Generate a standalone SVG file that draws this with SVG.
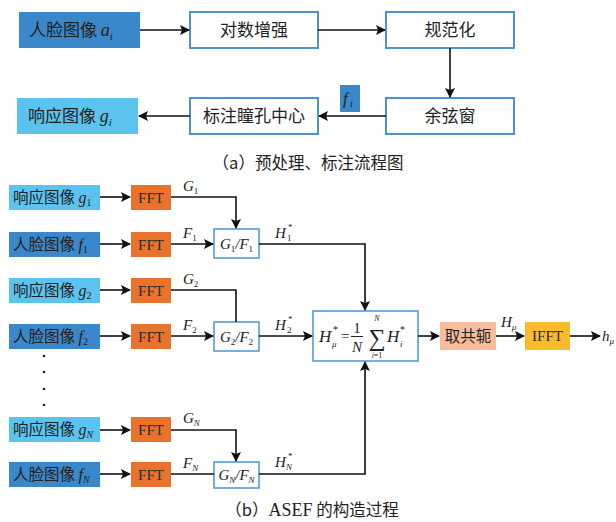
<svg xmlns="http://www.w3.org/2000/svg" width="616" height="522" viewBox="0 0 616 522">
<defs>
<marker id="ah" markerWidth="10" markerHeight="10" refX="9" refY="5" orient="auto" markerUnits="userSpaceOnUse">
<path d="M0,0 L10,5 L0,10 L2,5 Z" fill="#111"/>
</marker>
<style>
.cn{font-family:"Noto Sans CJK SC",sans-serif;fill:#222;}
.m{font-family:"Liberation Serif",serif;font-style:italic;fill:#222;}
.r{font-family:"Liberation Serif",serif;font-style:normal;fill:#222;}
.wb{fill:#fff;stroke:#4a94d4;stroke-width:2;}
.sb{fill:#fff;stroke:#4a94d4;stroke-width:1.5;}
.dk{fill:#3a88c9;}
.lt{fill:#5cc2ee;}
.ff{fill:#e9722d;}
.fx{font-family:"Liberation Serif",serif;font-size:15px;fill:#2a2a2a;text-anchor:middle;}
.ln{fill:none;stroke:#111;stroke-width:1.6;}
.t17{font-size:17px;}
.t15{font-size:15.5px;}
</style>
</defs>
<rect width="616" height="522" fill="#fff"/>

<!-- part (a) -->
<g id="a-face"><rect class="dk" x="19" y="12" width="121" height="36"/><text class="cn t17" x="29" y="36">人脸图像 <tspan class="m" font-size="18">a</tspan><tspan class="m" font-size="11" dy="4">i</tspan></text></g>
<g id="a-log"><rect class="wb" x="190" y="12" width="128" height="36"/><text class="cn t17" x="254" y="36" text-anchor="middle">对数增强</text></g>
<g id="a-norm"><rect class="wb" x="386" y="12" width="128" height="36"/><text class="cn t17" x="450" y="36" text-anchor="middle">规范化</text></g>
<g id="a-cos"><rect class="wb" x="386" y="98" width="128" height="36"/><text class="cn t17" x="450" y="122" text-anchor="middle">余弦窗</text></g>
<g id="a-mark"><rect class="wb" x="190" y="98" width="128" height="36"/><text class="cn t17" x="254" y="122" text-anchor="middle">标注瞳孔中心</text></g>
<g id="a-fi"><rect class="dk" x="340" y="85" width="20" height="27"/><text class="m" x="343" y="104" font-size="17">f</text><text class="m" x="350" y="107" font-size="10">i</text></g>
<g id="a-resp"><rect class="lt" x="17" y="98" width="121" height="36"/><text class="cn t17" x="28" y="122">响应图像 <tspan class="m" font-size="18">g</tspan><tspan class="m" font-size="11" dy="4">i</tspan></text></g>
<text id="cap-a" class="cn" x="308" y="169" font-size="16.5" text-anchor="middle">（a）预处理、标注流程图</text>

<!-- part (b) nodes -->
<g id="g1"><rect class="lt" x="9" y="185" width="91" height="25"/><text class="cn t15" x="13" y="203">响应图像 <tspan class="m" font-size="16">g</tspan><tspan class="r" font-size="10" dy="3">1</tspan></text></g>
<g id="fft1"><rect class="ff" x="131" y="185" width="40" height="25"/><text class="fx" x="151" y="203">FFT</text></g>
<g id="f1"><rect class="dk" x="9" y="232" width="91" height="25"/><text class="cn t15" x="13" y="250">人脸图像 <tspan class="m" font-size="16">f</tspan><tspan class="r" font-size="10" dy="3">1</tspan></text></g>
<g id="fft2"><rect class="ff" x="131" y="232" width="40" height="25"/><text class="fx" x="151" y="250">FFT</text></g>
<g id="div1"><rect class="sb" x="214" y="229" width="45" height="29"/><text class="m" x="236.5" y="249" font-size="15" text-anchor="middle">G<tspan class="r" font-size="9" dy="3">1</tspan><tspan dy="-3">/F</tspan><tspan class="r" font-size="9" dy="3">1</tspan></text></g>

<g id="g2"><rect class="lt" x="9" y="278" width="91" height="25"/><text class="cn t15" x="13" y="296">响应图像 <tspan class="m" font-size="16">g</tspan><tspan class="r" font-size="10" dy="3">2</tspan></text></g>
<g id="fft3"><rect class="ff" x="131" y="278" width="40" height="25"/><text class="fx" x="151" y="296">FFT</text></g>
<g id="f2"><rect class="dk" x="9" y="324" width="91" height="25"/><text class="cn t15" x="13" y="342">人脸图像 <tspan class="m" font-size="16">f</tspan><tspan class="r" font-size="10" dy="3">2</tspan></text></g>
<g id="fft4"><rect class="ff" x="131" y="324" width="40" height="25"/><text class="fx" x="151" y="342">FFT</text></g>
<g id="div2"><rect class="sb" x="214" y="322" width="45" height="29"/><text class="m" x="236.5" y="342" font-size="15" text-anchor="middle">G<tspan class="r" font-size="9" dy="3">2</tspan><tspan dy="-3">/F</tspan><tspan class="r" font-size="9" dy="3">2</tspan></text></g>

<g id="dots" fill="#222"><circle cx="44" cy="356" r="1.3"/><circle cx="44" cy="372" r="1.3"/><circle cx="44" cy="389" r="1.3"/><circle cx="44" cy="405" r="1.3"/></g>

<g id="gN"><rect class="lt" x="9" y="417" width="91" height="25"/><text class="cn t15" x="13" y="435">响应图像 <tspan class="m" font-size="16">g</tspan><tspan class="m" font-size="10" dy="3">N</tspan></text></g>
<g id="fft5"><rect class="ff" x="131" y="417" width="40" height="25"/><text class="fx" x="151" y="435">FFT</text></g>
<g id="fN"><rect class="dk" x="9" y="462" width="91" height="25"/><text class="cn t15" x="13" y="480">人脸图像 <tspan class="m" font-size="16">f</tspan><tspan class="m" font-size="10" dy="3">N</tspan></text></g>
<g id="fft6"><rect class="ff" x="131" y="462" width="40" height="25"/><text class="fx" x="151" y="480">FFT</text></g>
<g id="divN"><rect class="sb" x="214" y="462" width="45" height="26"/><text class="m" x="236.5" y="480" font-size="15" text-anchor="middle">G<tspan font-size="9" dy="3">N</tspan><tspan dy="-3">/F</tspan><tspan font-size="9" dy="3">N</tspan></text></g>

<g id="mean"><rect class="sb" x="313" y="311" width="105" height="50"/>
<text class="m" x="319" y="342" font-size="17">H</text><text class="m" x="332" y="347" font-size="9">μ</text><text class="r" x="333" y="333" font-size="10">*</text>
<text class="r" x="341" y="341" font-size="15">=</text>
<text class="r" x="357" y="333" font-size="15" text-anchor="middle">1</text>
<line x1="351" y1="336.5" x2="363" y2="336.5" stroke="#222" stroke-width="1"/>
<text class="m" x="357" y="352" font-size="15" text-anchor="middle">N</text>
<text class="r" x="377" y="346" font-size="24" text-anchor="middle">∑</text>
<text class="m" x="377" y="321" font-size="8" text-anchor="middle">N</text>
<text class="m" x="377" y="358" font-size="8" text-anchor="middle">i<tspan class="r">=1</tspan></text>
<text class="m" x="387" y="342" font-size="17">H</text><text class="m" x="400" y="347" font-size="9">i</text><text class="r" x="400" y="333" font-size="10">*</text>
</g>
<g id="conj"><rect fill="#f8bc9c" x="440" y="322" width="56" height="28"/><text class="cn" x="468" y="342" font-size="15.5" text-anchor="middle">取共轭</text></g>
<g id="ifft"><rect fill="#f7bb2c" x="525" y="322" width="45" height="28"/><text class="fx" x="547.5" y="341">IFFT</text></g>

<!-- connectors -->
<g id="connectors">
<line class="ln" x1="140" y1="30" x2="189" y2="30" marker-end="url(#ah)"/>
<line class="ln" x1="318" y1="30" x2="385" y2="30" marker-end="url(#ah)"/>
<line class="ln" x1="450" y1="48" x2="450" y2="97" marker-end="url(#ah)"/>
<line class="ln" x1="386" y1="116" x2="319" y2="116" marker-end="url(#ah)"/>
<line class="ln" x1="190" y1="116" x2="139" y2="116" marker-end="url(#ah)"/>

<line class="ln" x1="100" y1="197" x2="130" y2="197" marker-end="url(#ah)"/>
<line class="ln" x1="100" y1="244" x2="130" y2="244" marker-end="url(#ah)"/>
<line class="ln" x1="100" y1="290" x2="130" y2="290" marker-end="url(#ah)"/>
<line class="ln" x1="100" y1="336" x2="130" y2="336" marker-end="url(#ah)"/>
<line class="ln" x1="100" y1="430" x2="130" y2="430" marker-end="url(#ah)"/>
<line class="ln" x1="100" y1="474" x2="130" y2="474" marker-end="url(#ah)"/>

<polyline class="ln" points="171,197 236,197 236,228" marker-end="url(#ah)"/>
<line class="ln" x1="171" y1="244" x2="213" y2="244" marker-end="url(#ah)"/>
<polyline class="ln" points="171,290 236,290 236,322"/>
<line class="ln" x1="171" y1="336" x2="213" y2="336" marker-end="url(#ah)"/>
<polyline class="ln" points="171,430 236,430 236,461" marker-end="url(#ah)"/>
<line class="ln" x1="171" y1="474" x2="214" y2="474"/>

<polyline class="ln" points="259,244 365,244 365,310" marker-end="url(#ah)"/>
<line class="ln" x1="259" y1="336" x2="312" y2="336" marker-end="url(#ah)"/>
<polyline class="ln" points="259,474 365,474 365,362" marker-end="url(#ah)"/>
<line class="ln" x1="418" y1="336" x2="439" y2="336" marker-end="url(#ah)"/>
<line class="ln" x1="496" y1="336" x2="524" y2="336" marker-end="url(#ah)"/>
<line class="ln" x1="570" y1="336" x2="600" y2="336" marker-end="url(#ah)"/>
</g>

<!-- connector labels -->
<g id="labels">
<text class="m" x="183" y="191" font-size="15">G<tspan class="r" font-size="9" dy="3">1</tspan></text>
<text class="m" x="183" y="238" font-size="15">F<tspan class="r" font-size="9" dy="3">1</tspan></text>
<text class="m" x="183" y="284" font-size="15">G<tspan class="r" font-size="9" dy="3">2</tspan></text>
<text class="m" x="183" y="330" font-size="15">F<tspan class="r" font-size="9" dy="3">2</tspan></text>
<text class="m" x="183" y="423" font-size="15">G<tspan font-size="9" dy="3">N</tspan></text>
<text class="m" x="183" y="468" font-size="15">F<tspan font-size="9" dy="3">N</tspan></text>
<text class="m" x="275" y="238" font-size="15">H</text><text class="r" x="287" y="241" font-size="9">1</text><text class="r" x="288" y="230" font-size="9">*</text>
<text class="m" x="275" y="330" font-size="15">H</text><text class="r" x="287" y="333" font-size="9">2</text><text class="r" x="288" y="322" font-size="9">*</text>
<text class="m" x="275" y="467" font-size="15">H</text><text class="m" x="286" y="470" font-size="9">N</text><text class="r" x="288" y="459" font-size="9">*</text>
<text class="m" x="501" y="327" font-size="15">H<tspan font-size="9" dy="3">μ</tspan></text>
<text class="m" x="602" y="341" font-size="15">h<tspan font-size="9" dy="3">μ</tspan></text>
</g>
<text id="cap-b" class="cn" x="312" y="516" font-size="16.5" text-anchor="middle">（b）<tspan class="r" font-size="18">ASEF</tspan> 的构造过程</text>
</svg>
